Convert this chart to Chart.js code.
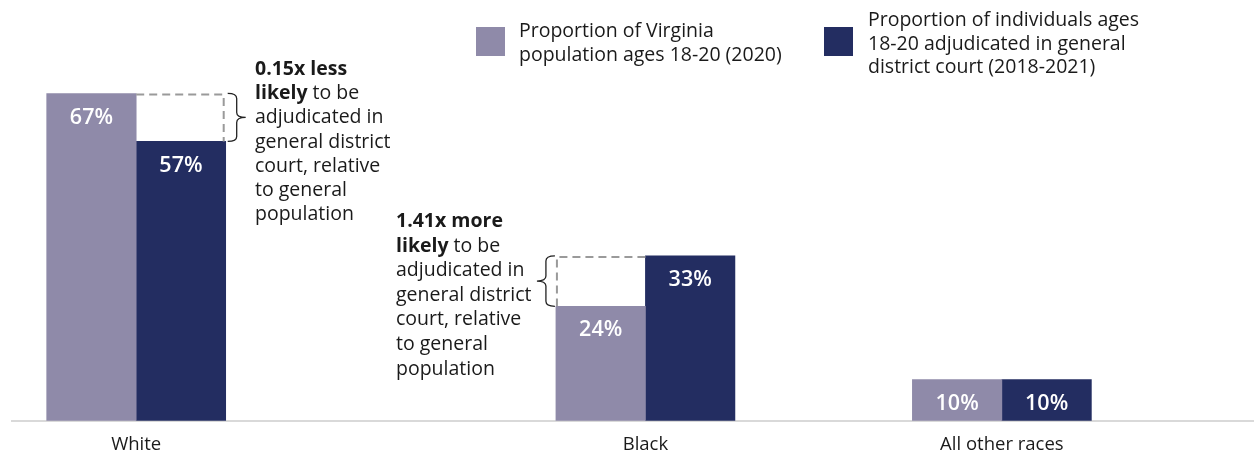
<!DOCTYPE html>
<html lang="en">
<head>
<meta charset="UTF-8">
<title>Adjudication of individuals ages 18-20 by race</title>
<style>
	* { margin: 0; padding: 0; box-sizing: border-box; }
	body { background: #fff; }
	.chartbox { width: 1254px; height: 453px; position: relative; }
</style>
</head>
<body>
<div class="chartbox">
	<canvas id="myChart"></canvas>
</div>

<script src="https://cdn.jsdelivr.net/npm/chart.js"></script>
<script>
// data
const categories = ['White', 'Black', 'All other races'];
const populationShare = [66.9, 23.4, 8.4];
const adjudicatedShare = [57.1, 33.7, 8.4];
const populationLabels = ['67%', '24%', '10%'];
const adjudicatedLabels = ['57%', '33%', '10%'];
const legendPopulation = ['Proportion of Virginia', 'population ages 18-20 (2020)'];
const legendAdjudicated = ['Proportion of individuals ages', '18-20 adjudicated in general', 'district court (2018-2021)'];
const noteWhite = [['0.15x less', ''], ['likely', ' to be'], ['', 'adjudicated in'], ['', 'general district'], ['', 'court, relative'], ['', 'to general'], ['', 'population']];
const noteBlack = [['1.41x more', ''], ['likely', ' to be'], ['', 'adjudicated in'], ['', 'general district'], ['', 'court, relative'], ['', 'to general'], ['', 'population']];

// where each category sits along the (0..1) x axis
const slots = [0.1, 0.51, 0.797];

const PURPLE = '#8f8aa9';
const NAVY = '#232d61';
const FONT = '"Open Sans", sans-serif';
const TEXT = 19.5;

function points(vals) {
	return vals.map((v, i) => ({x: slots[i], y: v}));
}

function drawNote(ctx, lines, x, y, step) {
	ctx.fillStyle = '#1a1a1a';
	ctx.textAlign = 'left';
	ctx.textBaseline = 'alphabetic';
	lines.forEach((ln, i) => {
		let cx = x;
		if (ln[0]) {
			ctx.font = 'bold ' + TEXT + 'px ' + FONT;
			ctx.fillText(ln[0], cx, y + i * step);
			cx += ctx.measureText(ln[0]).width;
		}
		if (ln[1]) {
			ctx.font = TEXT + 'px ' + FONT;
			ctx.fillText(ln[1], cx, y + i * step);
		}
	});
}

// curly brace, dir = 1 points right, -1 points left
function brace(ctx, x, y0, y1, dir) {
	const w = 18 * dir, mid = (y0 + y1) / 2, r = 5;
	ctx.beginPath();
	ctx.moveTo(x, y0);
	ctx.quadraticCurveTo(x + w / 2, y0, x + w / 2, y0 + r);
	ctx.lineTo(x + w / 2, mid - r);
	ctx.quadraticCurveTo(x + w / 2, mid, x + w, mid);
	ctx.quadraticCurveTo(x + w / 2, mid, x + w / 2, mid + r);
	ctx.lineTo(x + w / 2, y1 - r);
	ctx.quadraticCurveTo(x + w / 2, y1, x, y1);
	ctx.strokeStyle = '#222';
	ctx.lineWidth = 1.3;
	ctx.setLineDash([]);
	ctx.stroke();
}

const extras = {
	id: 'extras',
	afterDatasetsDraw(chart) {
		const ctx = chart.ctx;
		const pop = chart.getDatasetMeta(0).data;
		const adj = chart.getDatasetMeta(1).data;
		const labels = [populationLabels, adjudicatedLabels];

		ctx.save();
		// value labels inside bars
		ctx.font = '600 21.5px ' + FONT;
		ctx.fillStyle = '#fff';
		ctx.textAlign = 'center';
		ctx.textBaseline = 'middle';
		[pop, adj].forEach((bars, d) => {
			bars.forEach((b, i) => ctx.fillText(labels[d][i], b.x, b.y + 24));
		});

		// dashed gap boxes
		ctx.strokeStyle = '#9a9a9a';
		ctx.lineWidth = 2;
		ctx.setLineDash([8, 5]);
		// White: navy is shorter
		let w0 = adj[0], p0 = pop[0];
		let l = w0.x - w0.width / 2, r = w0.x + w0.width / 2 - 2;
		ctx.beginPath();
		ctx.moveTo(l, p0.y + 1);
		ctx.lineTo(r, p0.y + 1);
		ctx.lineTo(r, w0.y);
		ctx.stroke();
		// Black: purple is shorter
		let p1 = pop[1], a1 = adj[1];
		l = p1.x - p1.width / 2 + 1;
		r = p1.x + p1.width / 2;
		ctx.beginPath();
		ctx.moveTo(r, a1.y + 1);
		ctx.lineTo(l, a1.y + 1);
		ctx.lineTo(l, p1.y);
		ctx.stroke();

		brace(ctx, w0.x + w0.width / 2 + 2, p0.y, w0.y, 1);
		brace(ctx, p1.x - p1.width / 2 - 1, a1.y, p1.y, -1);

		drawNote(ctx, noteWhite, 255, 75, 24.2);
		drawNote(ctx, noteBlack, 396, 227, 24.6);

		// legend
		ctx.fillStyle = PURPLE;
		ctx.fillRect(476, 27, 29, 29);
		ctx.fillStyle = NAVY;
		ctx.fillRect(824, 27, 29, 29);
		ctx.fillStyle = '#1a1a1a';
		ctx.font = TEXT + 'px ' + FONT;
		ctx.textAlign = 'left';
		ctx.textBaseline = 'alphabetic';
		legendPopulation.forEach((t, i) => ctx.fillText(t, 519, 37 + i * 23.5));
		legendAdjudicated.forEach((t, i) => ctx.fillText(t, 868, 26 + i * 23.5));
		ctx.restore();
	}
};

const data = {
	datasets: [{
		label: 'Proportion of Virginia population ages 18-20 (2020)',
		data: points(populationShare),
		backgroundColor: PURPLE
	}, {
		label: 'Proportion of individuals ages 18-20 adjudicated in general district court (2018-2021)',
		data: points(adjudicatedShare),
		backgroundColor: NAVY
	}]
};

const config = {
	type: 'bar',
	data,
	options: {
		responsive: true,
		maintainAspectRatio: false,
		animation: false,
		layout: {padding: {left: 12, right: 0, top: 0, bottom: -16}},
		barThickness: 89.5,
		plugins: {legend: {display: false}, tooltip: {enabled: false}},
		scales: {
			x: {
				type: 'linear',
				offset: false,
				min: 0,
				max: 1,
				grid: {display: false, drawTicks: false},
				border: {display: true, color: '#d9d9d9', width: 2},
				afterBuildTicks: (scale) => { scale.ticks = slots.map(v => ({value: v})); },
				ticks: {
					autoSkip: false,
					maxRotation: 0,
					padding: 13,
					color: '#1a1a1a',
					font: {family: FONT, size: 18.5},
					callback: (v, i) => categories[i]
				}
			},
			y: {display: false, min: 0, max: 86}
		}
	},
	plugins: [extras]
};

const myChart = new Chart(document.getElementById('myChart'), config);
</script>
</body>
</html>
